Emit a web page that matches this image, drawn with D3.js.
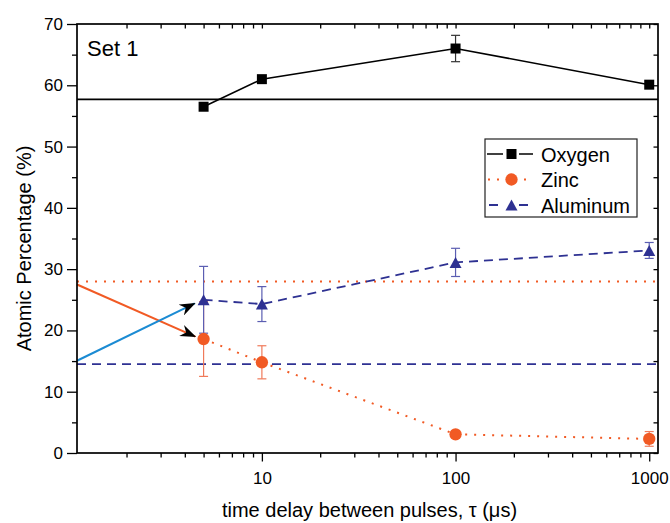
<!DOCTYPE html>
<html>
<head>
<meta charset="utf-8">
<script src="https://cdn.jsdelivr.net/npm/d3@7"></script>
<style>
  html, body { margin: 0; padding: 0; background: #fff; }
  svg { display: block; font-family: "Liberation Sans", Arial, sans-serif; }
</style>
</head>
<body>
<svg id="chart" width="670" height="523"></svg>
<script>
// Time delay between pulses (µs)
const delays = [5, 10, 100, 1000];

// Atomic percentages and their uncertainties
const oxygen      = [56.5, 61.0, 66.0, 60.1];
const oxygenErr   = [0, 0, 2.15, 0];
const zinc        = [18.6, 14.8, 3.05, 2.3];
const zincErr     = [6.1, 2.7, 0, 1.2];
const aluminum    = [25.0, 24.3, 31.1, 33.05];
const aluminumErr = [5.45, 2.85, 2.3, 1.3];

// Reference compositions (horizontal lines)
const oxygenRef = 57.7;
const zincRef = 28.0;
const aluminumRef = 14.5;

// Annotation arrows: [start, end] in (delay, percentage)
const zincArrow = [[1.11, 27.5], [4.53, 19.0]];
const aluminumArrow = [[1.11, 15.05], [4.5, 24.4]];

// Axis ticks
const xMajor = [10, 100, 1000];
const yMajor = [0, 10, 20, 30, 40, 50, 60, 70];
const seriesNames = ["Oxygen", "Zinc", "Aluminum"];

const colors = {
  oxygen: "#000000", oxygenErr: "#333333",
  zinc: "#f15a24", zincErr: "#f07a5a",
  aluminum: "#2e3192", aluminumErr: "#5b5eb2",
  arrowBlue: "#1b8bd3"
};

const margin = { left: 77, right: 12, top: 24, bottom: 70 };
const W = 670, H = 523;
const svg = d3.select("#chart");

const x = d3.scaleLog().domain([1.11, 1110]).range([margin.left, W - margin.right]);
const y = d3.scaleLinear().domain([0, 70]).range([H - margin.bottom, margin.top]);

// minor log ticks
const xMinor = [];
for (const dec of [1, 10, 100]) {
  for (let k = 2; k <= 9; k++) {
    const v = k * dec;
    if (v >= x.domain()[0] && v <= x.domain()[1]) xMinor.push(v);
  }
}
const yMinor = d3.range(5, 70, 10);

const x0 = x.range()[0], x1 = x.range()[1];
const y0 = y.range()[0], y1 = y.range()[1];

// ---------- reference lines ----------
const refG = svg.append("g");
refG.append("line").attr("x1", x0).attr("x2", x1)
  .attr("y1", y(zincRef)).attr("y2", y(zincRef))
  .attr("stroke", colors.zinc).attr("stroke-width", 2)
  .attr("stroke-dasharray", "2,7");
refG.append("line").attr("x1", x0).attr("x2", x1)
  .attr("y1", y(aluminumRef)).attr("y2", y(aluminumRef))
  .attr("stroke", colors.aluminum).attr("stroke-width", 1.8)
  .attr("stroke-dasharray", "9,6");
refG.append("line").attr("x1", x0).attr("x2", x1)
  .attr("y1", y(oxygenRef)).attr("y2", y(oxygenRef))
  .attr("stroke", "#000").attr("stroke-width", 1.6);

// ---------- error bars ----------
function errorBars(vals, errs, color) {
  const g = svg.append("g").attr("stroke", color).attr("stroke-width", 1.2).attr("fill", "none");
  delays.forEach((d, i) => {
    if (!errs[i]) return;
    const cx = x(d), yt = y(vals[i] + errs[i]), yb = y(vals[i] - errs[i]);
    g.append("line").attr("x1", cx).attr("x2", cx).attr("y1", yt).attr("y2", yb);
    g.append("line").attr("x1", cx - 4.5).attr("x2", cx + 4.5).attr("y1", yt).attr("y2", yt);
    g.append("line").attr("x1", cx - 4.5).attr("x2", cx + 4.5).attr("y1", yb).attr("y2", yb);
  });
}
errorBars(zinc, zincErr, colors.zincErr);
errorBars(aluminum, aluminumErr, colors.aluminumErr);
errorBars(oxygen, oxygenErr, colors.oxygenErr);

// ---------- series lines ----------
const line = d3.line().x(d => x(d[0])).y(d => y(d[1]));
svg.append("path").datum(delays.map((d, i) => [d, zinc[i]]))
  .attr("d", line).attr("fill", "none").attr("stroke", colors.zinc)
  .attr("stroke-width", 2).attr("stroke-dasharray", "2,7");
svg.append("path").datum(delays.map((d, i) => [d, aluminum[i]]))
  .attr("d", line).attr("fill", "none").attr("stroke", colors.aluminum)
  .attr("stroke-width", 1.8).attr("stroke-dasharray", "9,6");
svg.append("path").datum(delays.map((d, i) => [d, oxygen[i]]))
  .attr("d", line).attr("fill", "none").attr("stroke", "#000")
  .attr("stroke-width", 1.6);

// ---------- markers ----------
const sq = d3.symbol().type(d3.symbolSquare).size(100);
const ci = d3.symbol().type(d3.symbolCircle).size(120);
function triPath(cx, cy, s) {
  const h = s * 0.92;
  return `M${cx},${cy - h / 2}L${cx + s / 2},${cy + h / 2}L${cx - s / 2},${cy + h / 2}Z`;
}
svg.append("g").selectAll("path").data(delays).join("path")
  .attr("transform", (d, i) => `translate(${x(d)},${y(zinc[i])})`)
  .attr("d", ci).attr("fill", colors.zinc);
svg.append("g").selectAll("path").data(delays).join("path")
  .attr("d", (d, i) => triPath(x(d), y(aluminum[i]), 12))
  .attr("fill", colors.aluminum);
svg.append("g").selectAll("path").data(delays).join("path")
  .attr("transform", (d, i) => `translate(${x(d)},${y(oxygen[i])})`)
  .attr("d", sq).attr("fill", "#000");

// ---------- annotation arrows ----------
const defs = svg.append("defs");
defs.append("marker").attr("id", "arrowhead")
  .attr("viewBox", "0 0 16 12").attr("refX", 15).attr("refY", 6)
  .attr("markerWidth", 16).attr("markerHeight", 12)
  .attr("markerUnits", "userSpaceOnUse").attr("orient", "auto")
  .append("path").attr("d", "M0,0L16,6L0,12L5,6Z").attr("fill", "#000");

function arrow(pts, color) {
  svg.append("line")
    .attr("x1", x(pts[0][0])).attr("y1", y(pts[0][1]))
    .attr("x2", x(pts[1][0])).attr("y2", y(pts[1][1]))
    .attr("stroke", color).attr("stroke-width", 2)
    .attr("marker-end", "url(#arrowhead)");
}
arrow(zincArrow, colors.zinc);
arrow(aluminumArrow, colors.arrowBlue);

// ---------- axes ----------
function styleLabels(g) {
  g.selectAll("text").attr("font-size", 17).attr("fill", "#000")
    .attr("font-family", "Liberation Sans, Arial, sans-serif");
}

// bottom: outward ticks
const axBottomMinor = svg.append("g").attr("transform", `translate(0,${y0})`)
  .call(d3.axisBottom(x).tickValues(xMinor).tickSize(4.5).tickFormat(""));
axBottomMinor.select(".domain").remove();
const axBottomMajor = svg.append("g").attr("transform", `translate(0,${y0})`)
  .call(d3.axisBottom(x).tickValues(xMajor).tickSize(8.5).tickPadding(10).tickFormat(d3.format("d")));
axBottomMajor.select(".domain").remove();
styleLabels(axBottomMajor);

// top: inward ticks
const axTop = svg.append("g").attr("transform", `translate(0,${y1})`)
  .call(d3.axisBottom(x).tickValues(xMinor.concat(xMajor)).tickSize(4.5).tickFormat(""));
axTop.select(".domain").remove();

// left: outward ticks
const axLeft = svg.append("g").attr("transform", `translate(${x0},0)`)
  .call(d3.axisLeft(y).tickValues(yMajor).tickSize(10).tickPadding(4).tickFormat(d3.format("d")));
axLeft.select(".domain").remove();
styleLabels(axLeft);
const axLeftMinor = svg.append("g").attr("transform", `translate(${x0},0)`)
  .call(d3.axisLeft(y).tickValues(yMinor).tickSize(5).tickFormat(""));
axLeftMinor.select(".domain").remove();

// right: inward ticks
const axRight = svg.append("g").attr("transform", `translate(${x1},0)`)
  .call(d3.axisLeft(y).tickValues(yMajor.concat(yMinor)).tickSize(4.5).tickFormat(""));
axRight.select(".domain").remove();

svg.selectAll(".tick line").attr("stroke", "#000").attr("stroke-width", 1.3);

// frame
svg.append("rect").attr("x", x0).attr("y", y1)
  .attr("width", x1 - x0).attr("height", y0 - y1)
  .attr("fill", "none").attr("stroke", "#000").attr("stroke-width", 1.7);

// ---------- titles ----------
svg.append("text").attr("x", (x0 + x1) / 2 + 2).attr("y", 517)
  .attr("text-anchor", "middle").attr("font-size", 20).attr("fill", "#000")
  .text("time delay between pulses, τ (μs)");
svg.append("text")
  .attr("transform", `translate(31,${(y0 + y1) / 2 + 10}) rotate(-90)`)
  .attr("text-anchor", "middle").attr("font-size", 20).attr("fill", "#000")
  .text("Atomic Percentage (%)");
svg.append("text").attr("x", 87).attr("y", 56)
  .attr("font-size", 22).attr("fill", "#000").text("Set 1");

// ---------- legend ----------
const leg = svg.append("g").attr("transform", "translate(485,139)");
leg.append("rect").attr("width", 152).attr("height", 78)
  .attr("fill", "#fff").attr("stroke", "#222").attr("stroke-width", 1.2);
const rowY = [15, 40.5, 66];
const legStyles = [
  { color: "#000", dash: null, width: 1.6, sym: "square" },
  { color: colors.zinc, dash: "2,7", width: 2, sym: "circle" },
  { color: colors.aluminum, dash: "9,6", width: 1.8, sym: "triangle" }
];
seriesNames.forEach((name, i) => {
  const st = legStyles[i];
  const r = leg.append("g").attr("transform", `translate(0,${rowY[i]})`);
  const ln = r.append("line").attr("x1", 2).attr("x2", 48).attr("y1", 0).attr("y2", 0)
    .attr("stroke", st.color).attr("stroke-width", st.width);
  if (st.dash) ln.attr("stroke-dasharray", st.dash).attr("stroke-dashoffset", i === 1 ? -1 : -2);
  // blank the line behind the symbol
  r.append("rect").attr("x", 18).attr("y", -7).attr("width", 16).attr("height", 14).attr("fill", "#fff");
  if (st.sym === "square") {
    r.append("path").attr("transform", "translate(26.5,0)").attr("d", sq).attr("fill", "#000");
  } else if (st.sym === "circle") {
    r.append("path").attr("transform", "translate(26.5,0)").attr("d", ci).attr("fill", st.color);
  } else {
    r.append("path").attr("d", triPath(26.5, 0, 12)).attr("fill", st.color);
  }
  r.append("text").attr("x", 56).attr("y", 7.5).attr("font-size", 20)
    .attr("fill", "#000").text(name);
});
</script>
</body>
</html>
